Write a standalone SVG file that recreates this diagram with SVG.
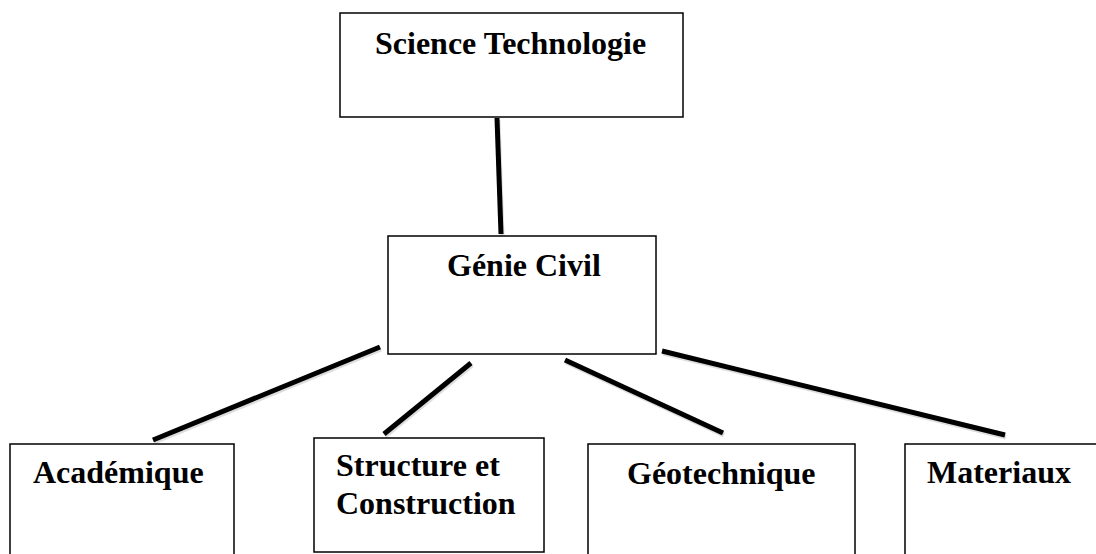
<svg xmlns="http://www.w3.org/2000/svg" width="1096" height="554" viewBox="0 0 1096 554">
<style>
.box{fill:#fff;stroke:#000;stroke-width:1.5}
.t{font-family:"Liberation Serif","Times New Roman",serif;font-weight:bold;font-size:32px;fill:#000}
.c{stroke:#000;stroke-width:5;fill:none}
.s{stroke:#bbb;stroke-width:5;fill:none;opacity:0.5}
</style>
<rect width="1096" height="554" fill="#fff"/>
<g id="connectors">
<g transform="translate(1,2)">
<line class="s" x1="497" y1="118" x2="501" y2="234"/>
<line class="s" x1="380" y1="347" x2="153" y2="440"/>
<line class="s" x1="471" y1="363" x2="384" y2="434"/>
<line class="s" x1="565" y1="360" x2="723" y2="433"/>
<line class="s" x1="662" y1="351" x2="1005" y2="435"/>
</g>
<line class="c" x1="497" y1="118" x2="501" y2="234"/>
<line class="c" x1="380" y1="347" x2="153" y2="440"/>
<line class="c" x1="471" y1="363" x2="384" y2="434"/>
<line class="c" x1="565" y1="360" x2="723" y2="433"/>
<line class="c" x1="662" y1="351" x2="1005" y2="435"/>
</g>
<g id="science"><rect class="box" x="340" y="13" width="343" height="104"/><text class="t" x="375" y="54">Science Technologie</text></g>
<g id="genie"><rect class="box" x="388" y="236" width="268" height="118"/><text class="t" x="447" y="276">Génie Civil</text></g>
<g id="academique"><rect class="box" x="10" y="444" width="224" height="120"/><text class="t" x="33" y="483">Académique</text></g>
<g id="structure"><rect class="box" x="314" y="438" width="230" height="114"/><text class="t" x="336" y="476">Structure et</text><text class="t" x="336" y="514">Construction</text></g>
<g id="geotechnique"><rect class="box" x="588" y="444" width="267" height="120"/><text class="t" x="627" y="484">Géotechnique</text></g>
<g id="materiaux"><rect class="box" x="905" y="444" width="200" height="120"/><text class="t" x="927" y="483">Materiaux</text></g>
</svg>
